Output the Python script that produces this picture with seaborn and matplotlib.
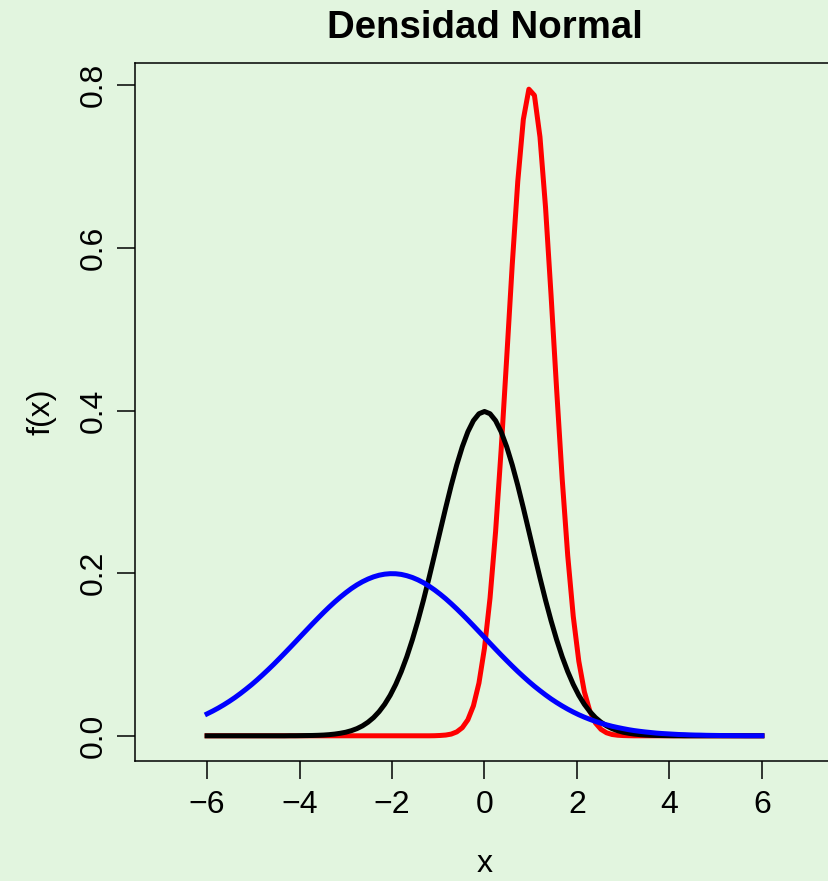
import matplotlib
matplotlib.use("Agg")
import matplotlib.pyplot as plt
import seaborn as sns
import pandas as pd

x = [-6.00, -5.88, -5.76, -5.64, -5.52, -5.40, -5.28, -5.16, -5.04, -4.92,
     -4.80, -4.68, -4.56, -4.44, -4.32, -4.20, -4.08, -3.96, -3.84, -3.72,
     -3.60, -3.48, -3.36, -3.24, -3.12, -3.00, -2.88, -2.76, -2.64, -2.52,
     -2.40, -2.28, -2.16, -2.04, -1.92, -1.80, -1.68, -1.56, -1.44, -1.32,
     -1.20, -1.08, -0.96, -0.84, -0.72, -0.60, -0.48, -0.36, -0.24, -0.12,
     0.00,
     0.12, 0.24, 0.36, 0.48, 0.60, 0.72, 0.84, 0.96, 1.08, 1.20,
     1.32, 1.44, 1.56, 1.68, 1.80, 1.92, 2.04, 2.16, 2.28, 2.40,
     2.52, 2.64, 2.76, 2.88, 3.00, 3.12, 3.24, 3.36, 3.48, 3.60,
     3.72, 3.84, 3.96, 4.08, 4.20, 4.32, 4.44, 4.56, 4.68, 4.80,
     4.92, 5.04, 5.16, 5.28, 5.40, 5.52, 5.64, 5.76, 5.88, 6.00]

f_black = [0.0, 0.0, 0.0, 0.0, 0.0, 0.0, 0.0, 0.0, 0.0, 0.0,
           0.0, 0.0, 0.0, 0.0, 0.0, 0.0001, 0.0001, 0.0002, 0.0003, 0.0004,
           0.0006, 0.0009, 0.0014, 0.0021, 0.0031, 0.0044, 0.0063, 0.0088, 0.0122, 0.0167,
           0.0224, 0.0297, 0.0387, 0.0498, 0.0632, 0.0790, 0.0973, 0.1182, 0.1415, 0.1669,
           0.1942, 0.2227, 0.2516, 0.2803, 0.3079, 0.3332, 0.3555, 0.3739, 0.3876, 0.3961,
           0.3989,
           0.3961, 0.3876, 0.3739, 0.3555, 0.3332, 0.3079, 0.2803, 0.2516, 0.2227, 0.1942,
           0.1669, 0.1415, 0.1182, 0.0973, 0.0790, 0.0632, 0.0498, 0.0387, 0.0297, 0.0224,
           0.0167, 0.0122, 0.0088, 0.0063, 0.0044, 0.0031, 0.0021, 0.0014, 0.0009, 0.0006,
           0.0004, 0.0003, 0.0002, 0.0001, 0.0001, 0.0, 0.0, 0.0, 0.0, 0.0,
           0.0, 0.0, 0.0, 0.0, 0.0, 0.0, 0.0, 0.0, 0.0, 0.0]

f_red = [0.0, 0.0, 0.0, 0.0, 0.0, 0.0, 0.0, 0.0, 0.0, 0.0,
         0.0, 0.0, 0.0, 0.0, 0.0, 0.0, 0.0, 0.0, 0.0, 0.0,
         0.0, 0.0, 0.0, 0.0, 0.0, 0.0, 0.0, 0.0, 0.0, 0.0,
         0.0, 0.0, 0.0, 0.0, 0.0, 0.0, 0.0, 0.0, 0.0, 0.0,
         0.0, 0.0001, 0.0004, 0.0009, 0.0021, 0.0048, 0.0100, 0.0197, 0.0368, 0.0649,
         0.1080,
         0.1696, 0.2513, 0.3517, 0.4646, 0.5794, 0.6821, 0.7581, 0.7953, 0.7877, 0.7365,
         0.6501, 0.5417, 0.4262, 0.3164, 0.2218, 0.1468, 0.0917, 0.0541, 0.0301, 0.0158,
         0.0079, 0.0037, 0.0016, 0.0007, 0.0003, 0.0001, 0.0, 0.0, 0.0, 0.0,
         0.0, 0.0, 0.0, 0.0, 0.0, 0.0, 0.0, 0.0, 0.0, 0.0,
         0.0, 0.0, 0.0, 0.0, 0.0, 0.0, 0.0, 0.0, 0.0, 0.0]

f_blue = [0.0270, 0.0304, 0.0341, 0.0381, 0.0424, 0.0470, 0.0520, 0.0573, 0.0628, 0.0687,
          0.0749, 0.0813, 0.0879, 0.0948, 0.1018, 0.1089, 0.1161, 0.1234, 0.1306, 0.1378,
          0.1448, 0.1517, 0.1583, 0.1646, 0.1705, 0.1760, 0.1811, 0.1856, 0.1895, 0.1928,
          0.1955, 0.1975, 0.1988, 0.1994, 0.1993, 0.1985, 0.1969, 0.1947, 0.1918, 0.1883,
          0.1841, 0.1794, 0.1742, 0.1686, 0.1625, 0.1561, 0.1494, 0.1425, 0.1354, 0.1282,
          0.1210,
          0.1137, 0.1065, 0.0994, 0.0925, 0.0857, 0.0791, 0.0728, 0.0667, 0.0609, 0.0555,
          0.0503, 0.0454, 0.0409, 0.0367, 0.0328, 0.0292, 0.0259, 0.0229, 0.0202, 0.0177,
          0.0155, 0.0135, 0.0117, 0.0102, 0.0088, 0.0075, 0.0064, 0.0055, 0.0047, 0.0040,
          0.0033, 0.0028, 0.0024, 0.0020, 0.0016, 0.0014, 0.0011, 0.0009, 0.0008, 0.0006,
          0.0005, 0.0004, 0.0003, 0.0003, 0.0002, 0.0002, 0.0001, 0.0001, 0.0001, 0.0001]

x_ticks = [-6, -4, -2, 0, 2, 4, 6]
y_ticks = [0.0, 0.2, 0.4, 0.6, 0.8]
y_tick_labels = ["0.0", "0.2", "0.4", "0.6", "0.8"]
title = "Densidad Normal"
xlabel = "x"
ylabel = "f(x)"

plt.rcParams["font.family"] = ["Liberation Sans", "DejaVu Sans"]
bg = "#E2F5DF"

df = pd.concat([
    pd.DataFrame({"x": x, "f": f_red, "curve": "red"}),
    pd.DataFrame({"x": x, "f": f_black, "curve": "black"}),
    pd.DataFrame({"x": x, "f": f_blue, "curve": "blue"}),
], ignore_index=True)

fig = plt.figure(figsize=(8.29, 8.81), dpi=100, facecolor=bg)
ax = fig.add_axes([135 / 829, 120 / 881, 699 / 829, 698 / 881])
ax.set_facecolor(bg)

sns.lineplot(data=df, x="x", y="f", hue="curve",
             hue_order=["red", "black", "blue"],
             palette={"red": "#FF0000", "black": "#000000", "blue": "#0000FF"},
             estimator=None, sort=False, legend=False, linewidth=3.6, ax=ax)

ax.set_xlim(-7.56, 7.56)
ax.set_ylim(-0.031, 0.8275)
ax.set_xticks(x_ticks)
ax.set_xticklabels(["\u2212" + str(-t) if t < 0 else str(t) for t in x_ticks])
ax.set_yticks(y_ticks)
ax.set_yticklabels(y_tick_labels, rotation=90, va="center")
ax.tick_params(axis="both", direction="out", length=13, width=1.1,
               labelsize=23, colors="black")
ax.tick_params(axis="x", pad=8)
ax.tick_params(axis="y", pad=6)
for s in ax.spines.values():
    s.set_color("black")
    s.set_linewidth(1.1)

ax.set_xlabel("")
ax.set_ylabel("")
fig.text(485 / 829, 1 - 872 / 881, xlabel, ha="center", va="baseline", fontsize=23)
fig.text(42 / 829, 1 - 412 / 881, ylabel, ha="center", va="center", fontsize=23, rotation=90)
fig.text(485 / 829, 1 - 38 / 881, title, ha="center", va="baseline", fontsize=27.6,
         fontweight="bold")

fig.savefig("out.png", dpi=100, facecolor=bg)
